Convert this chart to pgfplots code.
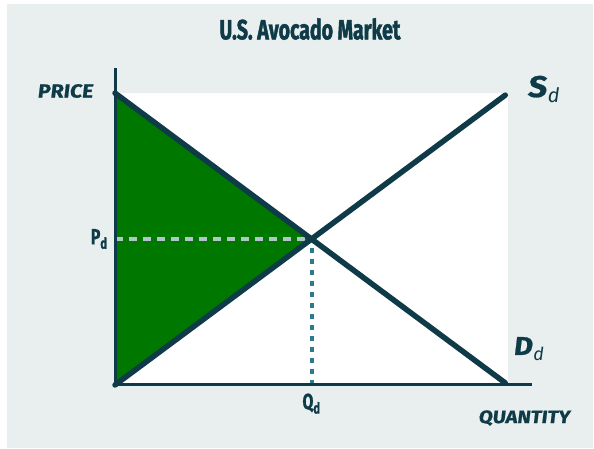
\documentclass[border=0pt]{standalone}
\usepackage{pgfplots}
\pgfplotsset{compat=1.18}
\usepackage{fontspec}
\setmainfont{Fira Sans}
\newfontfamily\condfont[FakeStretch=0.72]{Fira Sans}
\newfontfamily\titlefont[FakeStretch=0.70,FakeBold=1.6]{Fira Sans}
\newfontfamily\labfont[FakeStretch=0.72,FakeBold=1]{Fira Sans}
\newfontfamily\handfont[FakeSlant=0.12,FakeStretch=1.12,FakeBold=0.8]{Fira Sans}
\definecolor{dark}{HTML}{0E3B47}
\definecolor{bggray}{HTML}{E9EFEF}
\definecolor{avgreen}{HTML}{007800}
\definecolor{dashgray}{HTML}{B2C6CA}
\definecolor{dotteal}{HTML}{2C7A8C}
\begin{document}
\begin{tikzpicture}[x=1bp,y=1bp]
\fill[white] (0,0) rectangle (594,449);
\fill[bggray] (7,1) rectangle (593,445);
\node[dark, font=\titlefont\bfseries\fontsize{28}{32}\selectfont] at (310,420) {U.S. Avocado Market};
\begin{axis}[at={(115bp,64bp)}, anchor=south west, scale only axis,
  width=417bp, height=317bp,
  xmin=0, xmax=10.61, ymin=0, ymax=10.86,
  axis lines=left, axis on top,
  axis line style={-, line width=3bp, draw=dark},
  xtick={5}, xticklabels={Q\textsubscript{d}},
  ytick={5}, yticklabels={P\textsubscript{d}},
  major tick length=0pt,
  tick label style={text=dark, font=\labfont\bfseries\fontsize{22}{24}\selectfont},
  xticklabel style={yshift=-5bp},
  yticklabel style={xshift=-4bp},
  clip=false]
\fill[white] (axis cs:0,0) rectangle (axis cs:10,10);
\addplot[fill=avgreen, draw=none] coordinates {(0,10) (5,5) (0,0)} -- cycle;
\addplot[dashgray, line width=3.5bp, dash pattern=on 8bp off 6bp] coordinates {(0,5) (5,5)};
\addplot[dotteal, line width=4bp, dash pattern=on 5bp off 6bp] coordinates {(5,0) (5,5)};
\addplot[dark, line width=5.5bp, line cap=round] coordinates {(0,10) (9.93,0.07)};
\addplot[dark, line width=5.5bp, line cap=round] coordinates {(0,0) (9.93,9.93)};
\end{axis}
\node[dark, font=\handfont\bfseries\fontsize{19}{22}\selectfont] at (65,358) {PRICE};
\node[dark, font=\handfont\bfseries\fontsize{18}{22}\selectfont] at (524,31) {QUANTITY};
\node[dark, font=\handfont\bfseries\fontsize{30}{32}\selectfont, anchor=base west, inner sep=0pt] (S) at (527,352) {S};
\node[dark, font=\itshape\fontsize{20}{22}\selectfont, anchor=base west, inner sep=0pt] at ([xshift=1bp,yshift=-6bp]S.base east) {d};
\node[dark, font=\handfont\bfseries\fontsize{26}{30}\selectfont, anchor=base west, inner sep=0pt] (D) at (513,94) {D};
\node[dark, font=\itshape\fontsize{18}{20}\selectfont, anchor=base west, inner sep=0pt] at ([xshift=1bp,yshift=-6bp]D.base east) {d};
\end{tikzpicture}
\end{document}
